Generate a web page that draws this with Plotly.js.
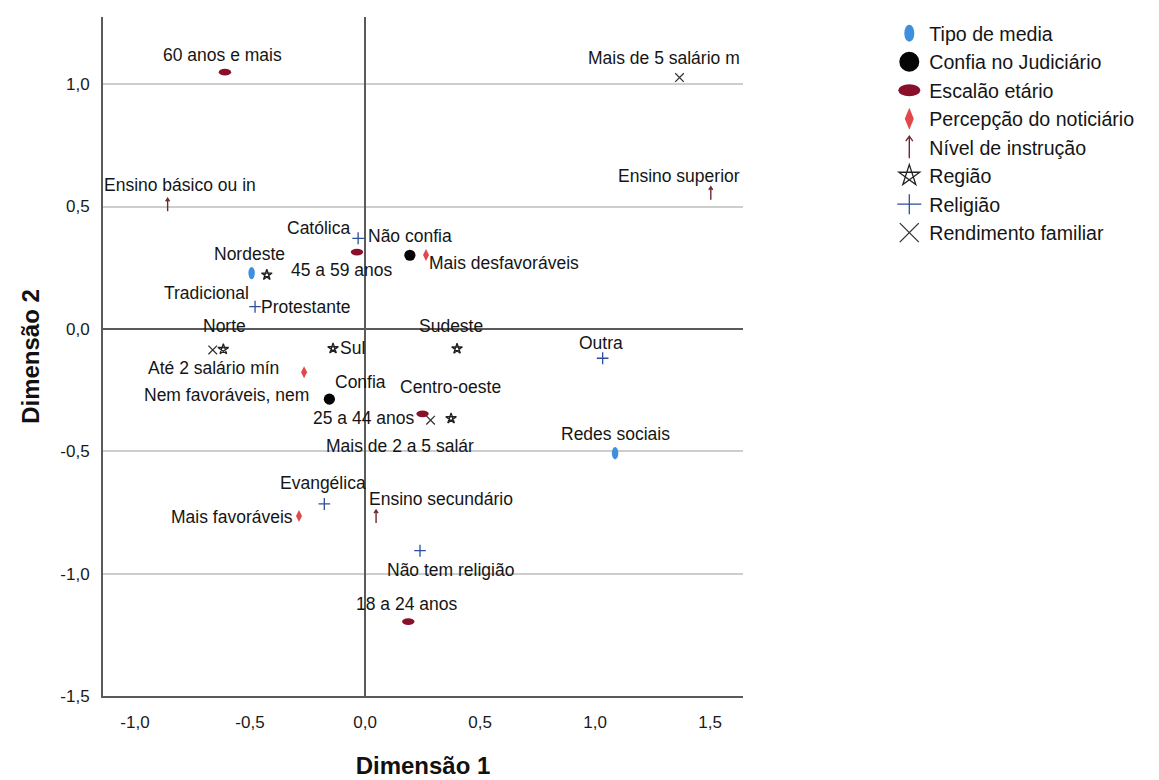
<!DOCTYPE html>
<html>
<head>
<meta charset="utf-8">
<script src="https://cdn.plot.ly/plotly-3.0.1.min.js"></script>
<style>
html,body{margin:0;padding:0;background:#fff;}
#chart{width:1159px;height:780px;}
</style>
</head>
<body>
<div id="chart"></div>
<script>
// ---------- DATA ----------
const seriesNames = ["Tipo de media","Confia no Judiciário","Escalão etário","Percepção do noticiário","Nível de instrução","Região","Religião","Rendimento familiar"];

const mediaLabels = ["Tradicional","Redes sociais"];
const mediaDim1 = [-0.493, 1.087];
const mediaDim2 = [0.228, -0.508];

const confiaLabels = ["Não confia","Confia"];
const confiaDim1 = [0.195, -0.155];
const confiaDim2 = [0.301, -0.287];

const idadeLabels = ["18 a 24 anos","25 a 44 anos","45 a 59 anos","60 anos e mais"];
const idadeDim1 = [0.188, 0.250, -0.035, -0.609];
const idadeDim2 = [-1.196, -0.347, 0.314, 1.049];

const percepLabels = ["Mais favoráveis","Nem favoráveis, nem","Mais desfavoráveis"];
const percepDim1 = [-0.287, -0.265, 0.265];
const percepDim2 = [-0.765, -0.177, 0.302];

const nivelLabels = ["Ensino básico ou in","Ensino secundário","Ensino superior"];
const nivelDim1 = [-0.858, 0.048, 1.503];
const nivelDim2 = [0.507, -0.767, 0.554];

const regiaoLabels = ["Norte","Nordeste","Sul","Sudeste","Centro-oeste"];
const regiaoDim1 = [-0.616, -0.427, -0.139, 0.400, 0.374];
const regiaoDim2 = [-0.083, 0.221, -0.080, -0.081, -0.366];

const religLabels = ["Católica","Protestante","Evangélica","Outra","Não tem religião"];
const religDim1 = [-0.030, -0.478, -0.177, 1.033, 0.239];
const religDim2 = [0.370, 0.091, -0.715, -0.120, -0.906];

const rendaLabels = ["Até 2 salário mín","Mais de 2 a 5 salár","Mais de 5 salário m"];
const rendaDim1 = [-0.662, 0.285, 1.367];
const rendaDim2 = [-0.086, -0.373, 1.027];

const xTickVals = [-1, -0.5, 0, 0.5, 1, 1.5];
const xTickText = ["-1,0","-0,5","0,0","0,5","1,0","1,5"];
const yTickVals = [-1.5, -1, -0.5, 0, 0.5, 1];
const yTickText = ["-1,5","-1,0","-0,5","0,0","0,5","1,0"];

const xTitle = "Dimensão 1";
const yTitle = "Dimensão 2";

// ---------- STYLE / LAYOUT ----------
const FONT = "Liberation Sans, Arial, sans-serif";

// label placement: [xanchor, dx px (right +), dy px (down +)]
const labelPlacement = {
  "Tradicional": ["right", -2, 20],
  "Redes sociais": ["center", 0, -19],
  "Não confia": ["center", 0, -19.5],
  "Confia": ["left", 4.5, -17.5],
  "18 a 24 anos": ["center", -2, -17.5],
  "25 a 44 anos": ["right", -8, 4.5],
  "45 a 59 anos": ["center", -15.5, 18.3],
  "60 anos e mais": ["center", -2, -17],
  "Mais favoráveis": ["right", -5, 0.5],
  "Nem favoráveis, nem": ["right", 6, 23],
  "Mais desfavoráveis": ["left", 2.3, 7.5],
  "Ensino básico ou in": ["left", -65, -20],
  "Ensino secundário": ["left", -8.3, -17.4],
  "Ensino superior": ["right", 30, -17.3],
  "Norte": ["center", 1, -23],
  "Nordeste": ["center", -17.4, -21],
  "Sul": ["left", 6, 0],
  "Sudeste": ["center", -5.6, -22.5],
  "Centro-oeste": ["center", -1, -31],
  "Católica": ["right", -7, -10],
  "Protestante": ["left", 5, 0],
  "Evangélica": ["center", -1, -21.3],
  "Outra": ["center", -2, -15],
  "Não tem religião": ["left", -34, 19.3],
  "Até 2 salário mín": ["center", 0.6, 18.3],
  "Mais de 2 a 5 salár": ["center", -31, 25.7],
  "Mais de 5 salário m": ["right", 61.4, -19.4]
};

function ellipse(rx, ry){ return `M${rx},0A${rx},${ry} 0 1,1 0,-${ry}A${rx},${ry} 0 0,1 ${rx},0Z`; }
function diamond(rx, ry){ return `M${rx},0L0,${ry}L-${rx},0L0,-${ry}Z`; }
function arrow(h, hw, hh){ return `M0,${h}V-${h}M-${hw},-${h-hh}L0,-${h}L${hw},-${h-hh}`; }
function pentagram(R){
  const p = [];
  for (let k=0;k<5;k++){ const a = (-90 + 72*k)*Math.PI/180; p.push([R*Math.cos(a), R*Math.sin(a)]); }
  const o = [0,2,4,1,3];
  return 'M' + o.map(i => p[i][0].toFixed(2)+','+p[i][1].toFixed(2)).join('L') + 'Z';
}
function plus(hx, hy){ return `M-${hx},0H${hx}M0,-${hy}V${hy}`; }
function cross(h){ return `M-${h},-${h}L${h},${h}M${h},-${h}L-${h},${h}`; }

const shapeDefs = [
  {plot: ellipse(3.2,6.2), legend: ellipse(5,8.5), fill:'#3d8fe0', stroke:'none', sw:0},
  {plot: ellipse(5.6,5.6), legend: ellipse(10,10), fill:'#050505', stroke:'none', sw:0},
  {plot: ellipse(6.2,3.4), legend: ellipse(11,6), fill:'#8a0f2b', stroke:'none', sw:0},
  {plot: diamond(3,6), legend: diamond(4.5,11), fill:'#e2474b', stroke:'none', sw:0},
  {plot: arrow(6.5,2,3), legend: arrow(11,3.5,5), fill:'none', stroke:'#6b2a2f', sw:1.4},
  {plot: pentagram(5.6), legend: pentagram(11), fill:'none', stroke:'#222222', sw:1.3},
  {plot: plus(5.8,6), legend: plus(12,10), fill:'none', stroke:'#2b4f9c', sw:1.3},
  {plot: cross(4.3), legend: cross(9.5), fill:'none', stroke:'#333333', sw:1.3}
];

const series = [
  [mediaLabels, mediaDim1, mediaDim2],
  [confiaLabels, confiaDim1, confiaDim2],
  [idadeLabels, idadeDim1, idadeDim2],
  [percepLabels, percepDim1, percepDim2],
  [nivelLabels, nivelDim1, nivelDim2],
  [regiaoLabels, regiaoDim1, regiaoDim2],
  [religLabels, religDim1, religDim2],
  [rendaLabels, rendaDim1, rendaDim2]
];

const traces = series.map((s, i) => ({
  type: 'scatter',
  mode: 'markers',
  name: seriesNames[i],
  x: s[1],
  y: s[2],
  text: s[0],
  hoverinfo: 'text',
  marker: {symbol: 'circle', size: 10, color: shapeDefs[i].fill === 'none' ? shapeDefs[i].stroke : shapeDefs[i].fill},
  cliponaxis: false
}));

const annotations = [];
series.forEach(s => {
  s[0].forEach((lab, j) => {
    const pl = labelPlacement[lab] || ["center", 0, -18];
    annotations.push({
      x: s[1][j], y: s[2][j], xref: 'x', yref: 'y',
      text: lab, showarrow: false,
      xanchor: pl[0], yanchor: 'middle',
      xshift: pl[1], yshift: -pl[2],
      borderpad: 0,
      font: {family: FONT, size: 17.5, color: '#151515'}
    });
  });
});

const layout = {
  width: 1159, height: 780,
  paper_bgcolor: '#ffffff', plot_bgcolor: '#ffffff',
  margin: {l: 103, r: 416, t: 17, b: 84, pad: 0},
  showlegend: true,
  font: {family: FONT, color: '#151515'},
  xaxis: {
    range: [-1.139, 1.643], autorange: false,
    tickmode: 'array', tickvals: xTickVals, ticktext: xTickText,
    showgrid: false, zeroline: true, zerolinecolor: '#5a5a5a', zerolinewidth: 2,
    showline: true, linecolor: '#5a5a5a', linewidth: 2, mirror: false,
    ticks: '', ticklabelstandoff: 10,
    tickfont: {family: FONT, size: 17, color: '#1a1a1a'},
    title: {text: xTitle, standoff: 26, font: {family: FONT, size: 24, weight: 700, color: '#111'}}
  },
  yaxis: {
    range: [-1.5, 1.2745], autorange: false,
    tickmode: 'array', tickvals: yTickVals, ticktext: yTickText,
    showgrid: true, gridcolor: '#cdcdcd', gridwidth: 2,
    zeroline: true, zerolinecolor: '#5a5a5a', zerolinewidth: 2,
    showline: true, linecolor: '#5a5a5a', linewidth: 2, mirror: false,
    ticks: '', ticklabelstandoff: 8,
    tickfont: {family: FONT, size: 17, color: '#1a1a1a'},
    title: {text: yTitle, standoff: 14, font: {family: FONT, size: 24, weight: 700, color: '#111'}}
  },
  legend: {
    x: 1.2286, y: 1.0044, xanchor: 'left', yanchor: 'top',
    xref: 'paper', yref: 'paper',
    bgcolor: 'rgba(0,0,0,0)', borderwidth: 0,
    font: {family: FONT, size: 19.6, color: '#151515'},
    traceorder: 'normal'
  },
  annotations: annotations
};

function applyShape(p, d, s){
  p.setAttribute('d', d);
  p.style.fill = s.fill;
  p.style.stroke = s.stroke;
  p.style.strokeWidth = s.sw + 'px';
  p.style.opacity = 1;
  p.style.fillOpacity = 1;
  p.style.strokeOpacity = 1;
}

Plotly.newPlot('chart', traces, layout, {staticPlot: true, displayModeBar: false}).then(gd => {
  const groups = gd.querySelectorAll('.scatterlayer .trace');
  groups.forEach((g, i) => {
    const s = shapeDefs[i]; if (!s) return;
    g.querySelectorAll('path.point').forEach(p => applyShape(p, s.plot, s));
  });
  const legendItems = gd.querySelectorAll('.legend .traces');
  legendItems.forEach((g, i) => {
    const s = shapeDefs[i]; if (!s) return;
    g.querySelectorAll('.legendpoints path.scatterpts').forEach(p => applyShape(p, s.legend, s));
  });
});
</script>
</body>
</html>
